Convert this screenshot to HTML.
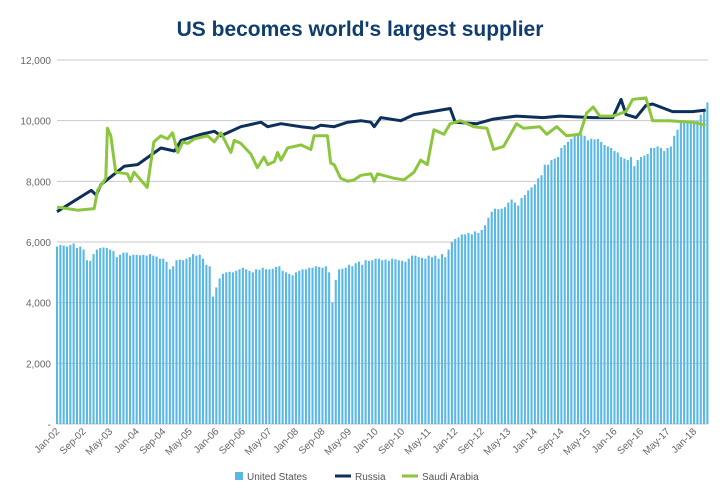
<!DOCTYPE html>
<html><head><meta charset="utf-8"><style>
body{margin:0;background:#fff;font-family:"Liberation Sans",sans-serif}
#wrap{position:relative;width:720px;height:500px;overflow:hidden}
h1{position:absolute;top:18px;left:0;width:720px;margin:0;text-align:center;font-size:21px;font-weight:bold;color:#0f3d6e}
</style></head><body>
<div id="wrap">
<h1>US becomes world's largest supplier</h1>
<svg id="chart" width="720" height="500" style="position:absolute;left:0;top:0"></svg>
</div>
<script>
const startYear = 2002;
const monthCount = 197;
const yTicks = [0,2000,4000,6000,8000,10000,12000];
const yTickLabels = ["-","2,000","4,000","6,000","8,000","10,000","12,000"];
const usValues = [
5850,5900,5880,5850,5900,5950,5800,5850,5750,5400,5380,5600,
5750,5800,5820,5800,5750,5700,5500,5580,5650,5650,5550,5580,
5580,5560,5580,5550,5600,5550,5520,5450,5450,5350,5100,5200,
5400,5420,5400,5450,5500,5600,5550,5580,5450,5250,5200,4200,
4500,4800,4950,5000,5020,5000,5050,5100,5150,5100,5050,5000,
5100,5080,5150,5100,5100,5120,5180,5200,5050,5000,4950,4900,
5000,5050,5100,5100,5150,5150,5200,5180,5150,5200,5000,4000,
4750,5100,5120,5150,5250,5200,5300,5350,5250,5400,5380,5400,
5450,5450,5400,5420,5380,5450,5430,5400,5380,5350,5450,5550,
5550,5500,5480,5450,5550,5500,5550,5450,5600,5500,5750,6000,
6100,6150,6250,6250,6300,6250,6350,6300,6400,6550,6800,7000,
7100,7080,7100,7150,7300,7400,7300,7200,7450,7550,7700,7800,
7900,8100,8200,8550,8550,8700,8750,8800,9100,9200,9300,9400,
9500,9600,9550,9500,9350,9400,9380,9400,9300,9200,9150,9100,
9000,8950,8800,8750,8700,8800,8500,8700,8800,8850,8900,9100,
9100,9150,9100,9000,9100,9150,9500,9700,9950,10000,10000,10000,
10000,10000,10200,10300,10600];
const russiaMonths = [0,10.3,11.8,13.3,20.3,24.3,31.3,35.4,37.4,43.4,47.4,49.4,52.4,55.4,61.5,63.5,67.5,73.5,77.5,79.5,83.5,87.6,91.6,94.6,95.6,97.6,103.6,107.6,118.5,120,126.5,131.5,138.5,146.5,151.5,161.5,167.5,170,171.5,174.5,177.5,179.5,185.5,191.5,195.5];
const russiaValues = [7000,7700,7550,7900,8500,8550,9100,9000,9350,9550,9650,9500,9650,9800,9950,9800,9900,9800,9750,9850,9800,9950,10000,9950,9800,10100,10000,10200,10400,9950,9900,10050,10150,10100,10150,10100,10100,10700,10200,10100,10500,10550,10300,10300,10350];
const saudiMonths = [0,3.2,6.2,11.2,12.2,14.7,15.2,16.2,17.7,21.2,22.2,23.2,27.2,29.2,31.3,33.3,34.8,36.4,37.9,39.4,41.4,45.4,47.4,49.4,52.4,53.4,55.4,58.4,60.4,62.4,63.5,65.5,66.5,67.5,69.5,73.5,76.5,77.5,81.5,82.5,83.5,85.5,87.6,89.6,91.6,94.6,95.6,96.6,101.6,104.6,107.6,109.6,111.6,113.6,116.6,118.5,121.6,123.6,125.6,129.6,131.6,134.6,138.5,140.6,145.5,147.6,150.6,153.6,157.6,159.6,161.6,163.6,167.5,171.5,173.5,177.5,179.5,184.5,191.5,195.5];
const saudiValues = [7150,7100,7050,7100,7700,8100,9750,9500,8300,8250,8000,8300,7800,9300,9500,9400,9600,8950,9300,9250,9400,9500,9300,9600,8950,9350,9250,8900,8450,8800,8550,8650,8950,8700,9100,9200,9050,9500,9500,8600,8550,8100,8000,8050,8200,8250,8000,8250,8100,8050,8300,8700,8550,9700,9550,9900,10000,9900,9800,9750,9050,9150,9900,9750,9800,9550,9800,9500,9550,10250,10450,10150,10150,10300,10700,10750,10000,10000,9950,9850];
const monthNames = ["Jan","Feb","Mar","Apr","May","Jun","Jul","Aug","Sep","Oct","Nov","Dec"];

const svg = document.getElementById('chart');
const NS = 'http://www.w3.org/2000/svg';
const X0 = 57, DX = 3.318, Y0 = 424, YTOP = 60, YMAX = 12000;
function xs(i){return X0 + i*DX;}
function ys(v){return Y0 - v/YMAX*(Y0-YTOP);}
function mk(tag, attrs){const e=document.createElementNS(NS,tag);for(const k in attrs)e.setAttribute(k,attrs[k]);svg.appendChild(e);return e;}

yTicks.forEach((t,k)=>{
  const g = mk('line',{x1:X0,x2:708,y1:ys(t),y2:ys(t),stroke:'#c8c8c8','stroke-width':1});
  
  
  const tx = mk('text',{x:51,y:ys(t)+4,'text-anchor':'end','font-size':10,fill:'#666','font-family':'Liberation Sans, sans-serif'});
  tx.textContent = yTickLabels[k];
  
  
});

usValues.forEach((v,i)=>{
  const r = mk('rect',{x:xs(i)-1,y:ys(v),width:2.1,height:Y0-ys(v),fill:'#5ab8e6'});
  
  
});

function line(ms, vs, color, name){
  const d = ms.map((m,i)=>(i?'L':'M')+xs(m).toFixed(1)+','+ys(vs[i]).toFixed(1)).join('');
  const p = mk('path',{d:d,fill:'none',stroke:color,'stroke-width':3,'stroke-linejoin':'round'});
  
  
}
line(russiaMonths, russiaValues, '#0d2f5c', 'line-russia');
line(saudiMonths, saudiValues, '#8cc63e', 'line-saudi-arabia');

for(let i=0;i<monthCount;i+=8){
  const lab = monthNames[i%12]+'-'+String((startYear+Math.floor(i/12))%100).padStart(2,'0');
  const x = xs(i);
  const t = mk('text',{x:x+3,y:Y0+8,'text-anchor':'end','font-size':10,fill:'#666','font-family':'Liberation Sans, sans-serif',transform:`rotate(-45 ${x+3} ${Y0+8})`});
  t.textContent = lab;
  
  
}

const legend = [['United States','#5ab8e6','rect',235],['Russia','#0d2f5c','line',335],['Saudi Arabia','#8cc63e','line',402]];
legend.forEach(([n,c,type,x])=>{
  let m;
  if(type==='rect') m = mk('rect',{x:x,y:472,width:8,height:8,fill:c});
  else m = mk('line',{x1:x,x2:x+16,y1:476,y2:476,stroke:c,'stroke-width':3});
  
  
  const t = mk('text',{x:x+(type==='rect'?12:20),y:480,'font-size':10,fill:'#555','font-family':'Liberation Sans, sans-serif'});
  t.textContent = n;
  
  
});
</script>
</body></html>
